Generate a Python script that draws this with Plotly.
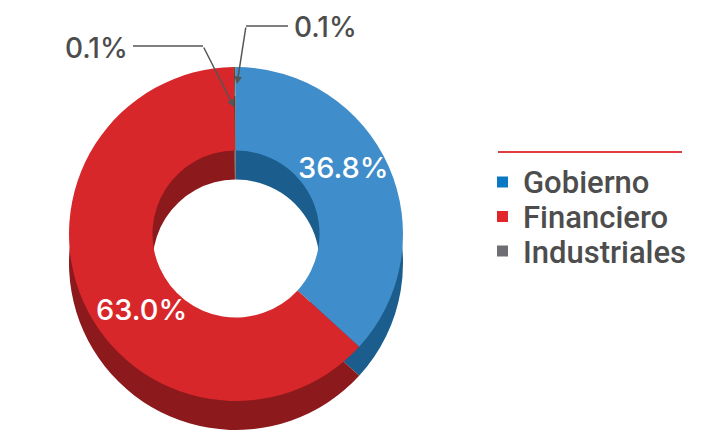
import plotly.graph_objects as go

# ---- data ----
slice_labels = ["Gobierno", "Financiero", "Otros", "Industriales"]
slice_values = [36.8, 63.0, 0.1, 0.1]
legend_labels = ["Gobierno", "Financiero", "Industriales"]

front_colors = ["#3f8dca", "#d7272b", "#4a4a4a", "#8c8c8c"]
back_colors = ["#1b5d8c", "#8c191c", "#3a3a3a", "#5a5a5a"]
legend_colors = ["#0a78c2", "#e0252b", "#6e6e73"]

W, H = 707, 433
OFF = 8  # page body margin


def px(x):
    return (x - OFF) / W


def py(y):
    return 1 - (y - OFF) / H


cx, D, top, depth = 236, 334, 67, 29
fx = [px(cx - D / 2), px(cx + D / 2)]
fy = [py(top + D), py(top)]
by = [py(top + D + depth), py(top + depth)]

fig = go.Figure()

# depth (side) layer
fig.add_trace(go.Pie(
    labels=slice_labels, values=slice_values, sort=False, direction="clockwise",
    rotation=0, hole=0.5, domain=dict(x=fx, y=by),
    marker=dict(colors=back_colors, line=dict(width=0)),
    textinfo="none", showlegend=False, hoverinfo="skip",
))

# top face
fig.add_trace(go.Pie(
    labels=slice_labels, values=slice_values, sort=False, direction="clockwise",
    rotation=0, hole=0.5, domain=dict(x=fx, y=fy),
    marker=dict(colors=front_colors, line=dict(width=0)),
    textinfo="none", showlegend=False,
))

annotations = []
shapes = []

# labels on the large slices
big = [(slice_values[0], 343, 167), (slice_values[1], 141, 309)]
for val, tx, ty in big:
    annotations.append(dict(
        x=px(tx), y=py(ty), xref="paper", yref="paper", text=f"{val:.1f}%",
        showarrow=False, font=dict(size=29, color="white", family="Inter", weight=500),
        xanchor="center", yanchor="middle",
    ))

# outside labels for the tiny slices (text, elbow leader, arrow)
small = [(slice_values[3], 325, 27, 288, 246, 26, 237, 84),
         (slice_values[2], 96, 48, 133, 203, 46, 234, 107)]
for val, tx, ty, lx0, lx1, ly, ax_pt, ay_pt in small:
    annotations.append(dict(
        x=px(tx), y=py(ty), xref="paper", yref="paper", text=f"{val:.1f}%",
        showarrow=False, font=dict(size=28, color="#4d4d4d", family="Inter", weight=500),
        xanchor="center", yanchor="middle", borderpad=0,
    ))
    shapes.append(dict(type="line", xref="paper", yref="paper",
                       x0=px(lx0), x1=px(lx1), y0=py(ly), y1=py(ly),
                       line=dict(color="#555555", width=1.5)))
    annotations.append(dict(
        x=px(ax_pt), y=py(ay_pt), xref="paper", yref="paper", text="",
        showarrow=True, arrowhead=2, arrowsize=1, arrowwidth=1.5, arrowcolor="#555555",
        ax=lx1 - ax_pt, ay=ly - ay_pt,
    ))

# legend (manual, to match spacing)
shapes.append(dict(type="line", xref="paper", yref="paper",
                   x0=px(498), x1=px(682), y0=py(152), y1=py(152),
                   line=dict(color="#e23b40", width=2)))
for i, (name, col) in enumerate(zip(legend_labels, legend_colors)):
    yc = 182 + i * 34.5
    shapes.append(dict(type="rect", xref="paper", yref="paper",
                       x0=px(497), x1=px(508), y0=py(yc - 5.5), y1=py(yc + 5.5),
                       fillcolor=col, line=dict(width=0)))
    annotations.append(dict(
        x=px(521), y=py(yc + 1), xref="paper", yref="paper", text=name,
        showarrow=False, xanchor="left", yanchor="middle",
        font=dict(size=31, color="#4d4d4d", family="Roboto", weight=500),
    ))

fig.update_layout(
    width=W, height=H, margin=dict(l=0, r=0, t=0, b=0),
    paper_bgcolor="white", plot_bgcolor="white",
    showlegend=False,
    annotations=annotations, shapes=shapes,
)

fig.write_html("out.html")
